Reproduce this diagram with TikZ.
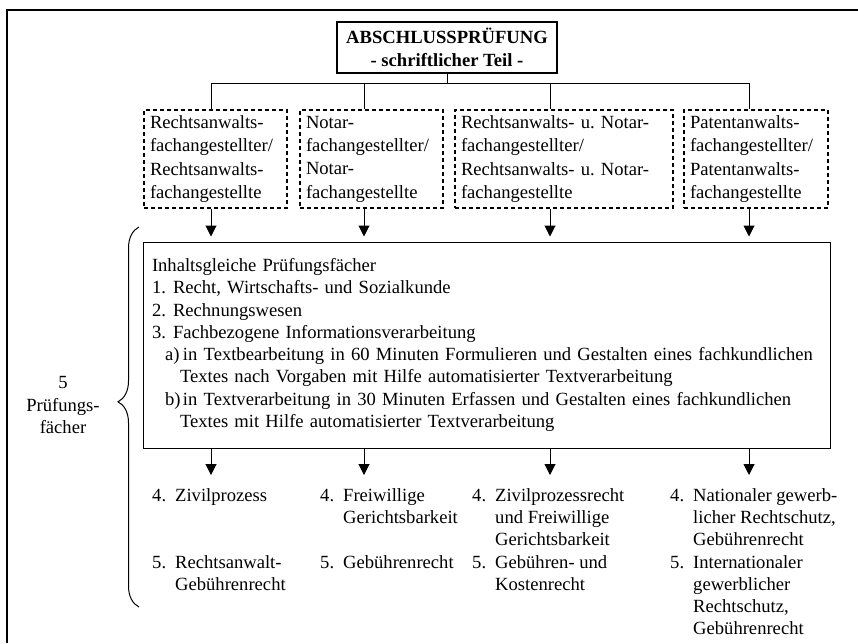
\documentclass[tikz,border=0pt]{standalone}
\usepackage{fontspec}
\setmainfont{Liberation Serif}
\usetikzlibrary{arrows.meta,decorations.pathreplacing}
\begin{document}
\begin{tikzpicture}[x=1pt,y=-1pt,
  font=\fontsize{18.6}{22.3}\selectfont,
  titlebox/.style={draw, line width=1.3pt, minimum width=220pt, minimum height=51pt, align=center, inner sep=0pt, font=\fontsize{18.6}{23}\selectfont\bfseries},
  jobbox/.style={draw, line width=1.1pt, dash pattern=on 4pt off 3pt, minimum height=98pt, inner xsep=6pt, align=left, font=\fontsize{18.6}{23.3}\selectfont},
  subjbox/.style={draw, line width=1pt, minimum height=206pt, inner xsep=9pt, text width=669pt, align=left},
  subjcol/.style={anchor=north west, inner sep=0pt, align=left},
  link/.style={line width=1pt},
  tip/.style={-{Triangle[width=11pt,length=11pt]}, line width=1pt}]
\useasboundingbox (0,0) rectangle (858,643);
\draw[line width=1.6pt] (858,10) -- (7,10) -- (7,643);

\node[titlebox] (0) at (447,47.5) {ABSCHLUSSPRÜFUNG\\- schriftlicher Teil -};
\node[jobbox, text width=131pt] (1) at (215.5,159) {Rechtsanwalts-\\fachangestellter/\\Rechtsanwalts-\\fachangestellte};
\node[jobbox, text width=131pt] (2) at (371.5,159) {Notar-\\fachangestellter/\\Notar-\\fachangestellte};
\node[jobbox, text width=206pt] (3) at (564,159) {Rechtsanwalts- u.\ Notar-\\fachangestellter/\\Rechtsanwalts- u.\ Notar-\\fachangestellte};
\node[jobbox, text width=132pt] (4) at (756,159) {Patentanwalts-\\fachangestellter/\\Patentanwalts-\\fachangestellte};

\node[subjbox] (5) at (486.5,345) {Inhaltsgleiche Prüfungsfächer\\
  \makebox[21pt][l]{1.}Recht, Wirtschafts- und Sozialkunde\\
  \makebox[21pt][l]{2.}Rechnungswesen\\
  \makebox[21pt][l]{3.}Fachbezogene Informationsverarbeitung\\
  \hspace*{13pt}\makebox[18pt][l]{a)}in Textbearbeitung in 60 Minuten Formulieren und Gestalten eines fachkundlichen\\
  \hspace*{28pt}Textes nach Vorgaben mit Hilfe automatisierter Textverarbeitung\\
  \hspace*{13pt}\makebox[18pt][l]{b)}in Textverarbeitung in 30 Minuten Erfassen und Gestalten eines fachkundlichen\\
  \hspace*{28pt}Textes mit Hilfe automatisierter Textverarbeitung};

\node[subjcol] (6) at (152,488) {\makebox[23pt][l]{4.}Zivilprozess\\[44.6pt]
  \makebox[23pt][l]{5.}Rechtsanwalt-\\\hspace*{23pt}Gebührenrecht};
\node[subjcol] (7) at (320,488) {\makebox[23pt][l]{4.}Freiwillige\\\hspace*{23pt}Gerichtsbarkeit\\[22.3pt]
  \makebox[23pt][l]{5.}Gebührenrecht};
\node[subjcol] (8) at (472,488) {\makebox[23pt][l]{4.}Zivilprozessrecht\\\hspace*{23pt}und Freiwillige\\\hspace*{23pt}Gerichtsbarkeit\\
  \makebox[23pt][l]{5.}Gebühren- und\\\hspace*{23pt}Kostenrecht};
\node[subjcol] (9) at (670,488) {\makebox[23pt][l]{4.}Nationaler gewerb-\\\hspace*{23pt}licher Rechtschutz,\\\hspace*{23pt}Gebührenrecht\\
  \makebox[23pt][l]{5.}Internationaler\\\hspace*{23pt}gewerblicher\\\hspace*{23pt}Rechtschutz,\\\hspace*{23pt}Gebührenrecht};

\coordinate (k1) at (211,83);
\coordinate (k2) at (364,83);
\coordinate (k3) at (550,83);
\coordinate (k4) at (749,83);
\draw[link] (0.south) -- (0.south |- k1);
\draw[link] (k1) -- (k4);
\foreach \i/\j in {1/6,2/7,3/8,4/9} {
  \draw[link] (k\i) -- (k\i |- \i.north);
  \draw[tip, shorten >=5pt] (\i.south -| k\i) -- (5.north -| k\i);
  \draw[tip, shorten >=13pt] (5.south -| k\i) -- (\j.north -| k\i);
}

\coordinate (bt) at (139,227);
\coordinate (bb) at (139,607);
\draw[line width=1pt, decorate, decoration={brace, amplitude=21pt, aspect=0.54}] (bb) -- (bt);
\node[align=center] (10) at (63,405) {5\\Prüfungs-\\fächer};
\end{tikzpicture}
\end{document}
